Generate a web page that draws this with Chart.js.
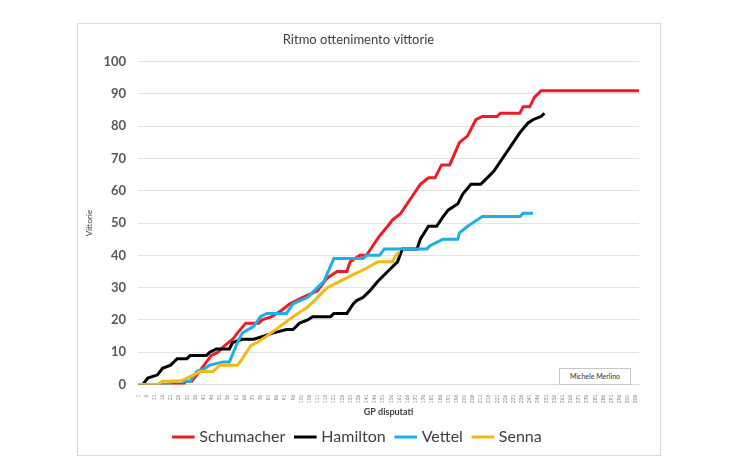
<!DOCTYPE html>
<html>
<head>
<meta charset="utf-8">
<script src="https://cdn.jsdelivr.net/npm/chart.js@4.4.0/dist/chart.umd.min.js"></script>
<style>
  body { margin: 0; background: #fff; width: 738px; height: 462px; overflow: hidden; font-family: Lato, sans-serif; }
  #box { position: absolute; left: 77px; top: 23px; width: 582px; height: 431px; border: 1px solid #d9d9d9; }
  #firma { position: absolute; left: 559px; top: 368px; width: 70px; height: 15px; border: 1px solid #c8c8c8; background: #fff;
           font-size: 7px; line-height: 15px; text-align: center; color: #333; }
</style>
</head>
<body>
<div id="box"><canvas id="grafico" width="582" height="431"></canvas></div>
<div id="firma">Michele Merlino</div>
<script>
// GP disputati (punti di svolta) e vittorie cumulate
const schumacherGp = [1, 29, 30, 34, 40, 43, 46, 50, 54, 59, 62, 67, 75, 77, 83, 89, 94, 102, 111, 117, 123, 129, 131, 137, 141, 145, 149, 154, 157, 162, 166, 170, 174, 179, 183, 187, 192, 198, 203, 208, 212, 221, 223, 235, 237, 241, 244, 248, 308];
const schumacherWins = [0, 0, 1, 1, 5, 7, 9, 10, 12, 14, 16, 19, 19, 20, 21, 23, 25, 27, 29, 33, 35, 35, 38, 40, 40, 43, 46, 49, 51, 53, 56, 59, 62, 64, 64, 68, 68, 75, 77, 82, 83, 83, 84, 84, 86, 86, 89, 91, 91];

const hamiltonGp = [1, 4, 7, 13, 16, 21, 25, 31, 33, 43, 45, 49, 57, 59, 65, 72, 78, 84, 92, 96, 100, 105, 108, 119, 121, 129, 133, 135, 139, 143, 148, 154, 160, 163, 172, 174, 179, 184, 188, 191, 197, 200, 205, 211, 215, 219, 223, 227, 231, 235, 240, 243, 248, 250];
const hamiltonWins = [0, 0, 2, 3, 5, 6, 8, 8, 9, 9, 10, 11, 11, 13, 14, 14, 15, 16, 17, 17, 19, 20, 21, 21, 22, 22, 25, 26, 27, 29, 32, 35, 38, 42, 42, 45, 49, 49, 52, 54, 56, 59, 62, 62, 64, 66, 69, 72, 75, 78, 81, 82, 83, 84];

const vettelGp = [1, 19, 22, 33, 37, 42, 45, 53, 57, 62, 65, 72, 76, 80, 92, 96, 105, 111, 115, 121, 139, 141, 149, 152, 178, 180, 184, 188, 197, 198, 203, 206, 212, 235, 237, 243];
const vettelWins = [0, 0, 1, 1, 4, 5, 6, 7, 7, 13, 16, 18, 21, 22, 22, 25, 27, 30, 32, 39, 39, 40, 40, 42, 42, 43, 44, 45, 45, 47, 49, 50, 52, 52, 53, 53];

const sennaGp = [1, 13, 16, 27, 31, 35, 39, 47, 51, 62, 65, 70, 74, 80, 88, 96, 105, 111, 117, 125, 133, 141, 148, 157, 159, 161];
const sennaWins = [0, 0, 1, 1, 2, 3, 4, 4, 6, 6, 8, 12, 13, 15, 18, 21, 24, 27, 30, 32, 34, 36, 38, 38, 40, 41];

// etichette asse x: una ogni 5 GP
const gpTicks = [];
for (let g = 1; g <= 306; g += 5) gpTicks.push(g);

function punti(gp, vitt) {
  return gp.map((g, i) => ({ x: g, y: vitt[i] }));
}

const ctx = document.getElementById("grafico").getContext("2d");
new Chart(ctx, {
  type: "line",
  data: {
    datasets: [
      { label: "Schumacher", data: punti(schumacherGp, schumacherWins), borderColor: "#ee1c25", backgroundColor: "#ee1c25", pointBorderWidth: 3, order: 4 },
      { label: "Hamilton", data: punti(hamiltonGp, hamiltonWins), borderColor: "#000000", backgroundColor: "#000000", pointBorderWidth: 3, order: 3 },
      { label: "Vettel", data: punti(vettelGp, vettelWins), borderColor: "#1cb0e6", backgroundColor: "#1cb0e6", pointBorderWidth: 3, order: 2 },
      { label: "Senna", data: punti(sennaGp, sennaWins), borderColor: "#f5b914", backgroundColor: "#f5b914", pointBorderWidth: 3, order: 1 }
    ]
  },
  options: {
    responsive: false,
    animation: false,
    layout: { padding: { left: 0, right: 21, top: 0, bottom: 0 } },
    elements: { point: { radius: 0 }, line: { borderWidth: 3, tension: 0 } },
    plugins: {
      title: {
        display: true, text: "Ritmo ottenimento vittorie", color: "#404040",
        font: { family: "Lato", size: 13, weight: "normal" }, padding: { top: 8, bottom: 14 }
      },
      legend: {
        position: "bottom",
        labels: {
          usePointStyle: true, pointStyle: "line", color: "#404040", font: { family: "Lato", size: 16 }, padding: 12,
          sort: (a, b) => a.datasetIndex - b.datasetIndex
        }
      },
      tooltip: { enabled: false }
    },
    scales: {
      x: {
        type: "linear", min: 1, max: 308,
        afterBuildTicks: a => { a.ticks = gpTicks.map(v => ({ value: v })); },
        ticks: { autoSkip: false, minRotation: 90, maxRotation: 90, color: "#808080", font: { family: "Lato", size: 5 }, padding: 2 },
        grid: { display: false },
        border: { color: "#d9d9d9" },
        title: { display: true, text: "GP disputati", color: "#404040", font: { family: "Lato", size: 9, weight: "bold" }, padding: { top: 1, bottom: 0 } }
      },
      y: {
        min: 0, max: 100,
        afterFit: a => { a.width = 60; },
        ticks: { stepSize: 10, color: "#595959", font: { family: "Lato", size: 13, weight: "bold" }, padding: 12 },
        grid: { color: "#e3e3e3", drawTicks: false },
        border: { display: false },
        title: { display: true, text: "Vittorie", color: "#404040", font: { family: "Lato", size: 8 }, padding: { top: 7, bottom: 0 } }
      }
    }
  }
});
</script>
</body>
</html>
